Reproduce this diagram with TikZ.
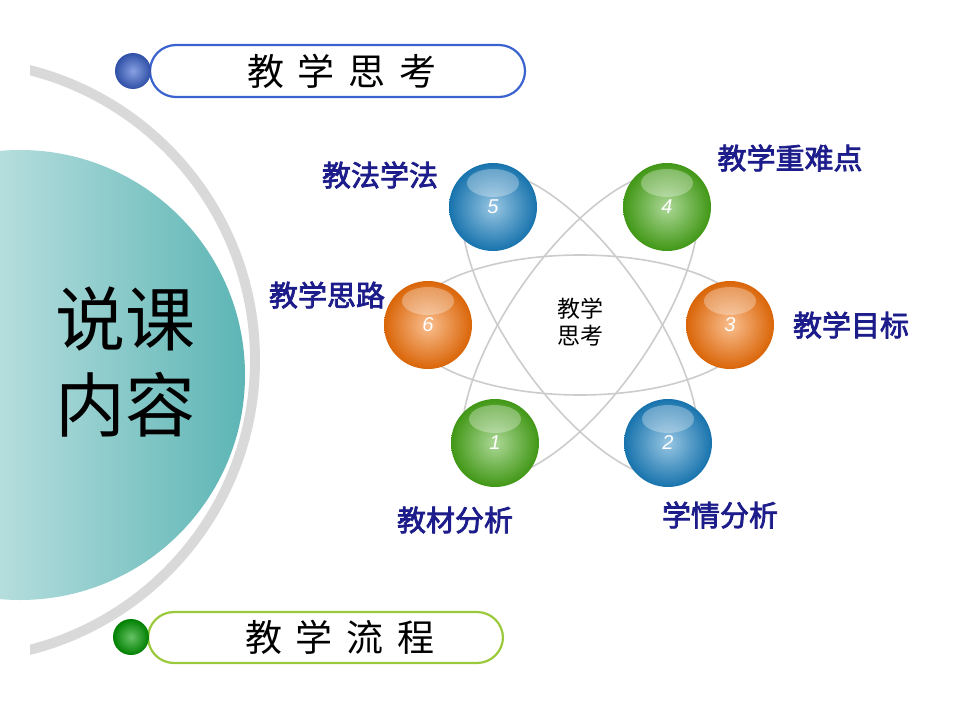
\documentclass[tikz,border=0pt]{standalone}
\usepackage{fontspec}
\setmainfont{Liberation Sans}
\newfontfamily\cjk{Noto Sans CJK SC}
\newfontfamily\cjkb[FakeBold=2.5]{Noto Sans CJK SC}
\definecolor{navy}{HTML}{1C1C8A}
\definecolor{teal1}{HTML}{5DB5B5}
\definecolor{bblue}{HTML}{3B63D0}
\definecolor{bgreen}{HTML}{9AC93C}
\definecolor{orb}{HTML}{F27008}
\definecolor{grb}{HTML}{48A818}
\definecolor{blb}{HTML}{1A80C0}
\tikzset{
  lbl/.style={font=\cjkb\fontsize{29}{31}\selectfont, text=navy},
  orbit/.style={draw=gray!40, line width=1.6pt},
  numtxt/.style={font=\itshape\fontsize{20}{22}\selectfont, text=white},
  banner/.style={rounded corners=26pt, line width=2.2pt, fill=white},
  btxt/.style={font=\cjk\fontsize{37}{40}\selectfont}
}
\begin{document}
\begin{tikzpicture}[x=1pt,y=-1pt]
\useasboundingbox (0,0) rectangle (960,720);
\fill[white] (0,0) rectangle (960,720);
% teal shape
\begin{scope}
\clip (0,0) rectangle (960,720);
\shade[left color=white, right color=teal1] (20,375) circle (225);
\end{scope}
% gray arc
\begin{scope}
\clip (30,0) rectangle (960,720);
\draw[gray!30, line width=10pt] (-44,360) circle (299);
\end{scope}
% main title
\node[font=\cjk\fontsize{70}{86}\selectfont, align=center, text=black] (title) at (125,362) {说课\\内容};
% banners
\draw[banner, draw=bblue] (150,45) rectangle (525,97);
\shade[inner color=bblue!60!white, outer color=bblue!80!black] (133,71) circle (18);
\node[btxt] (top) at (342,71) {教\hspace{14pt}学\hspace{14pt}思\hspace{14pt}考};
\draw[banner, draw=bgreen] (148,612) rectangle (503,663);
\shade[inner color=green!60!black!60!white, outer color=green!50!black] (131,637) circle (18);
\node[btxt] (bot) at (340,637) {教\hspace{14pt}学\hspace{14pt}流\hspace{14pt}程};
% orbits
\foreach \a/\r in {0/172,55/180,-55/180}
  \draw[orbit, rotate around={\a:(580,325)}] (580,325) ellipse[x radius=\r, y radius=70];
\node[font=\cjk\fontsize{23}{27}\selectfont, align=center] (c) at (580,322) {教学\\思考};
% spheres
\foreach \n/\x/\y/\c in {1/495/443/grb,2/668/443/blb,3/730/325/orb,4/667/207/grb,5/493/207/blb,6/428/325/orb}{
  \shade[inner color=\c!55!white, outer color=\c] (\x-8,\y-10) circle (2pt);
  \shade[inner color=\c!45!white, outer color=\c!90!black] (\x,\y) circle (44);
  \fill[white, opacity=0.3] (\x,\y-24) ellipse[x radius=26, y radius=14];
  \node[numtxt] (s\n) at (\x,\y) {\n};
}
% labels
\node[lbl] (l5) at (380,175) {教法学法};
\node[lbl] (l4) at (790,158) {教学重难点};
\node[lbl] (l6) at (327,295) {教学思路};
\node[lbl] (l3) at (851,325) {教学目标};
\node[lbl] (l1) at (455,520) {教材分析};
\node[lbl] (l2) at (720,515) {学情分析};
\end{tikzpicture}
\end{document}
